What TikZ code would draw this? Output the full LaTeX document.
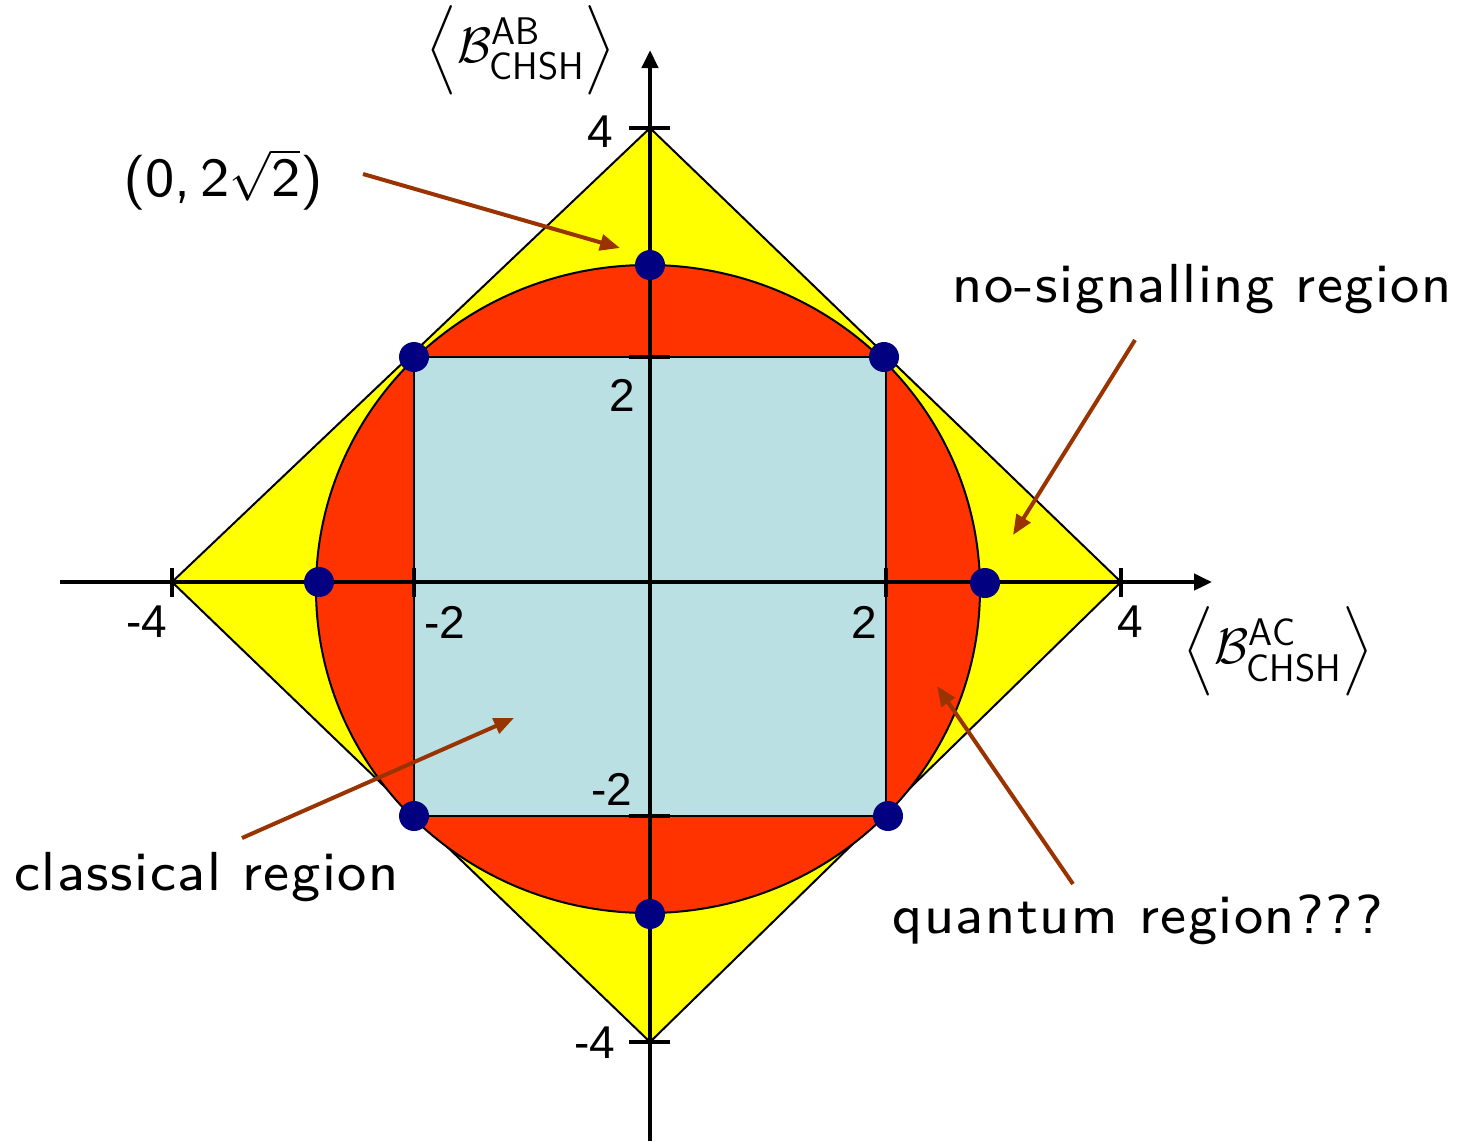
\documentclass[tikz,border=0pt]{standalone}
\usepackage{fontspec}
\usepackage{amsmath}
\usetikzlibrary{arrows.meta}
\newfontfamily\lblfont{lmsans8-regular.otf}[LetterSpace=2.8]
\newfontfamily\ptfont{lmsans8-regular.otf}
\newfontfamily\tickfont{Liberation Sans}
\definecolor{nsyellow}{HTML}{FFFF00}
\definecolor{qred}{HTML}{FF3300}
\definecolor{clblue}{HTML}{BBE0E3}
\definecolor{dotblue}{HTML}{000080}
\definecolor{ptrbrown}{HTML}{993300}
\begin{document}
\begin{tikzpicture}[x=0.5pt,y=-0.5pt,
  region/.style={draw=black,line width=1pt},
  axis/.style={line width=2.2pt,-{Triangle[length=9pt,width=8pt]}},
  tickmark/.style={line width=2.2pt},
  pt/.style={circle,fill=dotblue,inner sep=0pt,minimum size=15pt},
  ptr/.style={draw=ptrbrown,line width=2pt,-{Triangle[length=10pt,width=8pt]}},
  lbl/.style={inner sep=0pt,anchor=base west,font=\lblfont\fontsize{27.5}{30}\selectfont},
  ticklbl/.style={inner sep=0pt,font=\tickfont\fontsize{23}{26}\selectfont},
  axlbl/.style={inner sep=0pt,font=\fontsize{27.5}{30}\selectfont}]
\useasboundingbox (0,0) rectangle (1459,1141);
% regions
\draw[region,fill=nsyellow] (650,128) -- (1121,582) -- (650,1042) -- (172,582) -- cycle;
\draw[region,fill=qred] (648,589) ellipse [x radius=166pt,y radius=162pt];
\draw[region,fill=clblue] (414,357) rectangle (886,816);
% axes
\coordinate (xs) at (60,582);
\coordinate (xe) at (1212,582);
\coordinate (ys) at (650,1141);
\coordinate (ye) at (650,50);
\draw[axis] (xs) -- (xe);
\draw[axis] (ys) -- (ye);
% ticks
\foreach \x in {172,414,886,1121} \draw[tickmark] (\x,568) -- (\x,597);
\foreach \y in {128,357,816,1042} \draw[tickmark] (629,\y) -- (670,\y);
% tick labels
\node[ticklbl] (tx1) at (147,622) {-4};
\node[ticklbl] (tx2) at (445,622) {-2};
\node[ticklbl] (tx3) at (864,622) {2};
\node[ticklbl] (tx4) at (1130,622) {4};
\node[ticklbl] (ty1) at (600,132) {4};
\node[ticklbl] (ty2) at (622,395) {2};
\node[ticklbl] (ty3) at (612,789) {-2};
\node[ticklbl] (ty4) at (595,1043) {-4};
% dots
\node[pt] (d1) at (650,265) {};
\node[pt] (d2) at (414,357) {};
\node[pt] (d3) at (884,357) {};
\node[pt] (d4) at (319,582) {};
\node[pt] (d5) at (985,583) {};
\node[pt] (d6) at (414,816) {};
\node[pt] (d7) at (888,816) {};
\node[pt] (d8) at (650,914) {};
% axis labels
\node[axlbl] (laby) at (521,50) {$\Big\langle\mathcal{B}^{\mathsf{AB}}_{\mathsf{CHSH}}\Big\rangle$};
\node[axlbl] (labx) at (1278,651) {$\Big\langle\mathcal{B}^{\mathsf{AC}}_{\mathsf{CHSH}}\Big\rangle$};
% text labels
\node[inner sep=0pt,font=\ptfont\fontsize{27.5}{30}\selectfont] (lpt) at (223,180) {(0,\,2$\sqrt{\hbox{\ptfont\fontsize{27.5}{30}\selectfont 2}}$)};
\node[lbl] (lns) at (952,302) {no-signalling region};
\node[lbl] (lcl) at (14,890) {classical region};
\node[lbl] (lqu) at (892,933) {quantum region???};
% pointers
\coordinate (p1s) at (363,174); \coordinate (p1e) at (620,248);
\coordinate (p2s) at (1135,340); \coordinate (p2e) at (1013,535);
\coordinate (p3s) at (1073,884); \coordinate (p3e) at (937,686);
\coordinate (p4s) at (242,838); \coordinate (p4e) at (514,718);
\draw[ptr] (p1s) -- (p1e);
\draw[ptr] (p2s) -- (p2e);
\draw[ptr] (p3s) -- (p3e);
\draw[ptr] (p4s) -- (p4e);
\end{tikzpicture}
\end{document}
